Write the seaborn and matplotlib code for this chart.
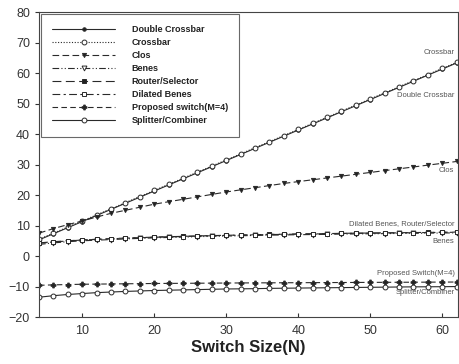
import matplotlib
matplotlib.use("Agg")
import matplotlib.pyplot as plt
import seaborn as sns
import pandas as pd

sizes = [4, 6, 8, 10, 12, 14, 16, 18, 20, 22, 24, 26, 28, 30, 32, 34, 36, 38, 40,
         42, 44, 46, 48, 50, 52, 54, 56, 58, 60, 62]
double_crossbar = [5.3, 7.3, 9.3, 11.3, 13.3, 15.3, 17.3, 19.3, 21.3, 23.3, 25.3, 27.3,
                   29.3, 31.3, 33.3, 35.3, 37.3, 39.3, 41.3, 43.3, 45.3, 47.3, 49.3, 51.3,
                   53.3, 55.3, 57.3, 59.3, 61.3, 63.3]
crossbar = [5.5, 7.5, 9.5, 11.5, 13.5, 15.5, 17.5, 19.5, 21.5, 23.5, 25.5, 27.5, 29.5,
            31.5, 33.5, 35.5, 37.5, 39.5, 41.5, 43.5, 45.5, 47.5, 49.5, 51.5, 53.5, 55.5,
            57.5, 59.5, 61.5, 63.5]
clos = [7.5, 9.0, 10.3, 11.5, 12.8, 14.0, 15.0, 16.0, 17.0, 17.8, 18.6, 19.4, 20.2,
        21.0, 21.7, 22.4, 23.1, 23.8, 24.4, 25.0, 25.6, 26.2, 26.8, 27.4, 28.0, 28.6,
        29.2, 29.8, 30.4, 31.0]
benes = [3.8, 4.3, 4.7, 5.0, 5.2, 5.4, 5.6, 5.8, 5.95, 6.1, 6.2, 6.35, 6.45, 6.55, 6.65,
         6.75, 6.85, 6.9, 7.0, 7.05, 7.1, 7.2, 7.25, 7.3, 7.35, 7.4, 7.45, 7.5, 7.55, 7.6]
router_selector = [4.3, 4.7, 5.0, 5.3, 5.5, 5.7, 5.9, 6.05, 6.2, 6.35, 6.45, 6.6, 6.7,
                   6.8, 6.9, 7.0, 7.1, 7.15, 7.25, 7.3, 7.35, 7.45, 7.5, 7.55, 7.6, 7.65,
                   7.7, 7.75, 7.8, 7.85]
dilated_benes = [4.2, 4.6, 4.95, 5.25, 5.45, 5.65, 5.85, 6.0, 6.15, 6.3, 6.4, 6.55, 6.65,
                 6.75, 6.85, 6.95, 7.05, 7.1, 7.2, 7.25, 7.3, 7.4, 7.45, 7.5, 7.55, 7.6,
                 7.65, 7.7, 7.75, 7.8]
proposed = [-9.6, -9.45, -9.35, -9.25, -9.2, -9.15, -9.1, -9.05, -9.0, -8.97, -8.94,
            -8.91, -8.88, -8.85, -8.82, -8.8, -8.78, -8.76, -8.74, -8.72, -8.7, -8.68,
            -8.66, -8.64, -8.62, -8.6, -8.58, -8.56, -8.54, -8.52]
splitter = [-13.5, -13.0, -12.6, -12.3, -12.0, -11.8, -11.6, -11.45, -11.3, -11.2, -11.1,
            -11.0, -10.9, -10.8, -10.75, -10.7, -10.6, -10.55, -10.5, -10.45, -10.4,
            -10.35, -10.3, -10.25, -10.2, -10.15, -10.1, -10.08, -10.05, -10.0]

series_names = ["Double Crossbar", "Crossbar", "Clos", "Benes", "Router/Selector",
                "Dilated Benes", "Proposed switch(M=4)", "Splitter/Combiner"]
series_values = [double_crossbar, crossbar, clos, benes, router_selector,
                 dilated_benes, proposed, splitter]

annotations = [("Crossbar", 66.6), ("Double Crossbar", 52.5), ("Clos", 27.9),
               ("Dilated Benes, Router/Selector", 10.5), ("Benes", 4.9),
               ("Proposed Switch(M=4)", -5.6), ("Splitter/Combiner", -12.1)]

styles = {
    "Double Crossbar": dict(ls="-", marker="o", mfc="#222222", ms=2.5),
    "Crossbar": dict(ls=(0, (1, 1.5)), marker="o", mfc="white", ms=3.5),
    "Clos": dict(ls=(0, (6, 3)), marker="v", mfc="#222222", ms=3),
    "Benes": dict(ls=(0, (6, 2, 1, 2, 1, 2)), marker="v", mfc="white", ms=3.5),
    "Router/Selector": dict(ls=(0, (8, 4)), marker="s", mfc="#222222", ms=3),
    "Dilated Benes": dict(ls=(0, (7, 3, 2, 3)), marker="s", mfc="white", ms=3),
    "Proposed switch(M=4)": dict(ls=(0, (5, 3)), marker="P", mfc="#222222", ms=3.5),
    "Splitter/Combiner": dict(ls="-", marker="o", mfc="white", ms=3.5),
}

sns.set_style("ticks")
plt.rcParams["font.family"] = ["Liberation Sans", "DejaVu Sans"]

fig = plt.figure(figsize=(4.59, 3.64), dpi=100)
ax = fig.add_axes([0.085, 0.129, 0.913, 0.838])

col = "#2a2a2a"
for name, vals in zip(series_names, series_values):
    st = styles[name]
    df = pd.DataFrame({"N": sizes, "loss": vals})
    sns.lineplot(data=df, x="N", y="loss", ax=ax, color=col, lw=0.8,
                 linestyle=st["ls"], marker=st["marker"], markersize=st["ms"],
                 markerfacecolor=st["mfc"], markeredgecolor=col, markeredgewidth=0.7,
                 label=name)

for txt, yv in annotations:
    ax.text(61.7, yv, txt, ha="right", va="center", fontsize=5.5, color="#555555")

ax.set_xlim(4, 62.2)
ax.set_ylim(-20, 80)
ax.set_xticks([10, 20, 30, 40, 50, 60])
ax.set_yticks(range(-20, 81, 10))
ax.tick_params(axis="x", direction="in", length=3, labelsize=9, colors="#333333", pad=6)
ax.tick_params(axis="y", direction="out", length=3, labelsize=9, colors="#333333")
ax.set_xlabel("Switch Size(N)", fontsize=12, fontweight="bold", color="#222222", labelpad=2)
ax.set_ylabel("")
for sp in ax.spines.values():
    sp.set_color("#444444")
    sp.set_linewidth(0.8)

leg = ax.legend(loc="upper left", bbox_to_anchor=(0.005, 0.993), borderaxespad=0,
                fontsize=6.5, handlelength=6.9, frameon=True, fancybox=False,
                edgecolor="#444444", borderpad=1.25, labelspacing=0.44,
                handletextpad=1.9)
leg.get_frame().set_linewidth(0.8)
for t in leg.get_texts():
    t.set_fontweight("bold")
    t.set_color("#222222")

fig.savefig("out.png", dpi=100)
